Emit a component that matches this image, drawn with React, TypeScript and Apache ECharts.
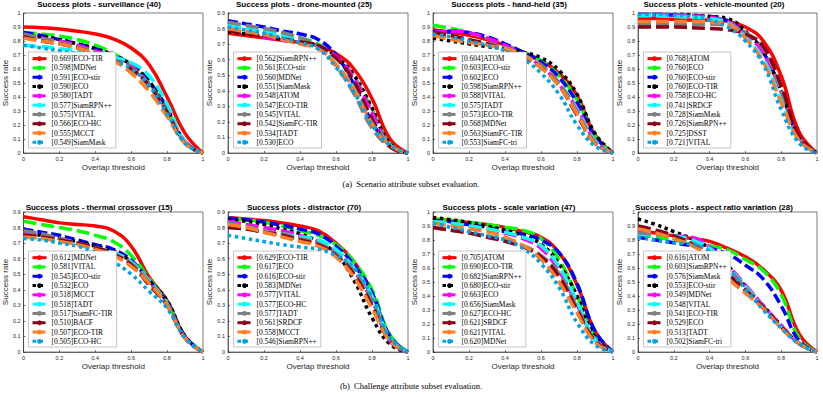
import React, { useEffect, useRef } from "react";
import * as echarts from "echarts";

const thresholds = [0, 0.1, 0.2, 0.3, 0.4, 0.5, 0.6, 0.7, 0.8, 0.9, 1];

const plotTitles = [
  "Success plots - surveillance (40)",
  "Success plots - drone-mounted (25)",
  "Success plots - hand-held (35)",
  "Success plots - vehicle-mounted (20)",
  "Success plots - thermal crossover (15)",
  "Success plots - distractor (70)",
  "Success plots - scale variation (47)",
  "Success plots - aspect ratio variation (28)",
];
const yMaxValues = [1, 0.9, 1, 1, 0.9, 0.9, 1, 1];
const captions = [
  "(a)  Scenario attribute subset evaluation.",
  "(b)  Challenge attribute subset evaluation.",
];

// 1. surveillance
const surveillanceTrackers = ["ECO-TIR", "MDNet", "ECO-stir", "ECO", "TADT", "SiamRPN++", "VITAL", "ECO-HC", "MCCT", "SiamMask"];
const surveillanceAuc = [0.669, 0.598, 0.591, 0.59, 0.58, 0.577, 0.575, 0.566, 0.555, 0.549];
const surveillanceCurves = [
  [0.9, 0.895, 0.885, 0.87, 0.85, 0.815, 0.75, 0.63, 0.4, 0.14, 0],
  [0.86, 0.85, 0.835, 0.81, 0.77, 0.71, 0.63, 0.5, 0.31, 0.08, 0],
  [0.86, 0.84, 0.81, 0.78, 0.745, 0.7, 0.63, 0.51, 0.32, 0.08, 0],
  [0.84, 0.83, 0.81, 0.78, 0.745, 0.7, 0.63, 0.51, 0.31, 0.08, 0],
  [0.84, 0.82, 0.8, 0.77, 0.73, 0.69, 0.62, 0.49, 0.3, 0.08, 0],
  [0.77, 0.76, 0.745, 0.73, 0.71, 0.685, 0.645, 0.55, 0.35, 0.08, 0],
  [0.85, 0.82, 0.79, 0.76, 0.72, 0.67, 0.61, 0.49, 0.3, 0.07, 0],
  [0.83, 0.8, 0.78, 0.75, 0.71, 0.66, 0.6, 0.48, 0.29, 0.07, 0],
  [0.82, 0.8, 0.78, 0.75, 0.71, 0.66, 0.57, 0.44, 0.26, 0.07, 0],
  [0.77, 0.75, 0.73, 0.71, 0.69, 0.66, 0.6, 0.48, 0.28, 0.07, 0],
];

// 2. drone-mounted
const droneTrackers = ["SiamRPN++", "ECO-stir", "MDNet", "SiamMask", "ATOM", "ECO-TIR", "VITAL", "SiamFC-TIR", "TADT", "ECO"];
const droneAuc = [0.562, 0.561, 0.56, 0.551, 0.548, 0.547, 0.545, 0.542, 0.534, 0.53];
const droneCurves = [
  [0.77, 0.755, 0.74, 0.725, 0.71, 0.69, 0.64, 0.54, 0.35, 0.09, 0],
  [0.82, 0.8, 0.78, 0.76, 0.74, 0.7, 0.62, 0.49, 0.28, 0.06, 0],
  [0.85, 0.83, 0.81, 0.785, 0.765, 0.73, 0.63, 0.44, 0.2, 0.05, 0],
  [0.78, 0.765, 0.75, 0.73, 0.71, 0.69, 0.62, 0.5, 0.29, 0.06, 0],
  [0.81, 0.78, 0.745, 0.725, 0.71, 0.69, 0.62, 0.48, 0.26, 0.05, 0],
  [0.82, 0.8, 0.78, 0.76, 0.73, 0.69, 0.57, 0.42, 0.22, 0.05, 0],
  [0.84, 0.82, 0.8, 0.775, 0.74, 0.69, 0.56, 0.38, 0.16, 0.04, 0],
  [0.79, 0.77, 0.755, 0.735, 0.715, 0.69, 0.61, 0.46, 0.22, 0.04, 0],
  [0.8, 0.78, 0.76, 0.73, 0.7, 0.67, 0.57, 0.41, 0.19, 0.05, 0],
  [0.81, 0.79, 0.77, 0.74, 0.71, 0.67, 0.55, 0.39, 0.18, 0.05, 0],
];

// 3. hand-held
const handheldTrackers = ["ATOM", "ECO-stir", "ECO", "SiamRPN++", "VITAL", "TADT", "ECO-TIR", "MDNet", "SiamFC-TIR", "SiamFC-tri"];
const handheldAuc = [0.604, 0.603, 0.602, 0.598, 0.588, 0.575, 0.573, 0.568, 0.563, 0.553];
const handheldCurves = [
  [0.88, 0.86, 0.84, 0.81, 0.77, 0.72, 0.66, 0.57, 0.41, 0.13, 0],
  [0.91, 0.89, 0.86, 0.82, 0.77, 0.72, 0.66, 0.55, 0.38, 0.12, 0],
  [0.87, 0.87, 0.86, 0.83, 0.78, 0.72, 0.65, 0.54, 0.36, 0.12, 0],
  [0.82, 0.8, 0.78, 0.76, 0.745, 0.72, 0.68, 0.59, 0.42, 0.14, 0],
  [0.86, 0.87, 0.86, 0.82, 0.77, 0.7, 0.62, 0.49, 0.32, 0.09, 0],
  [0.85, 0.83, 0.8, 0.78, 0.75, 0.7, 0.62, 0.5, 0.31, 0.09, 0],
  [0.85, 0.83, 0.81, 0.78, 0.75, 0.7, 0.63, 0.5, 0.3, 0.08, 0],
  [0.86, 0.84, 0.81, 0.78, 0.74, 0.69, 0.61, 0.48, 0.27, 0.07, 0],
  [0.84, 0.81, 0.79, 0.77, 0.745, 0.7, 0.61, 0.48, 0.28, 0.07, 0],
  [0.85, 0.83, 0.8, 0.77, 0.73, 0.67, 0.57, 0.42, 0.2, 0.05, 0],
];

// 4. vehicle-mounted
const vehicleTrackers = ["ATOM", "ECO", "ECO-stir", "ECO-TIR", "ECO-HC", "SRDCF", "SiamMask", "SiamRPN++", "DSST", "VITAL"];
const vehicleAuc = [0.768, 0.76, 0.76, 0.76, 0.758, 0.741, 0.728, 0.726, 0.725, 0.721];
const vehicleCurves = [
  [0.96, 0.96, 0.955, 0.95, 0.95, 0.94, 0.9, 0.8, 0.55, 0.15, 0],
  [0.99, 0.99, 0.985, 0.98, 0.97, 0.94, 0.86, 0.72, 0.45, 0.11, 0],
  [0.99, 0.99, 0.985, 0.98, 0.975, 0.945, 0.86, 0.72, 0.44, 0.11, 0],
  [0.99, 0.99, 0.99, 0.985, 0.975, 0.96, 0.87, 0.72, 0.44, 0.11, 0],
  [0.99, 0.99, 0.985, 0.98, 0.97, 0.94, 0.85, 0.71, 0.44, 0.11, 0],
  [0.98, 0.98, 0.975, 0.97, 0.96, 0.93, 0.83, 0.67, 0.38, 0.09, 0],
  [0.92, 0.92, 0.92, 0.92, 0.92, 0.91, 0.86, 0.75, 0.45, 0.1, 0],
  [0.9, 0.9, 0.9, 0.895, 0.89, 0.88, 0.85, 0.76, 0.48, 0.12, 0],
  [0.94, 0.94, 0.94, 0.94, 0.935, 0.92, 0.82, 0.65, 0.36, 0.09, 0],
  [0.99, 0.99, 0.985, 0.975, 0.95, 0.9, 0.8, 0.63, 0.31, 0.07, 0],
];

// 5. thermal crossover
const thermalTrackers = ["MDNet", "VITAL", "ECO-stir", "ECO", "MCCT", "TADT", "SiamFC-TIR", "BACF", "ECO-TIR", "ECO-HC"];
const thermalAuc = [0.612, 0.581, 0.545, 0.532, 0.518, 0.518, 0.517, 0.51, 0.507, 0.505];
const thermalCurves = [
  [0.87, 0.85, 0.83, 0.82, 0.81, 0.78, 0.68, 0.48, 0.33, 0.1, 0],
  [0.84, 0.82, 0.8, 0.78, 0.75, 0.71, 0.62, 0.47, 0.32, 0.1, 0],
  [0.79, 0.77, 0.75, 0.72, 0.69, 0.66, 0.59, 0.46, 0.32, 0.1, 0],
  [0.77, 0.75, 0.73, 0.71, 0.68, 0.65, 0.58, 0.46, 0.33, 0.1, 0],
  [0.77, 0.75, 0.73, 0.7, 0.67, 0.64, 0.58, 0.45, 0.3, 0.09, 0],
  [0.74, 0.73, 0.72, 0.7, 0.67, 0.64, 0.58, 0.46, 0.31, 0.09, 0],
  [0.78, 0.76, 0.73, 0.7, 0.67, 0.63, 0.57, 0.45, 0.3, 0.09, 0],
  [0.75, 0.74, 0.72, 0.7, 0.67, 0.63, 0.56, 0.43, 0.3, 0.09, 0],
  [0.74, 0.73, 0.71, 0.69, 0.66, 0.62, 0.55, 0.44, 0.3, 0.09, 0],
  [0.73, 0.72, 0.7, 0.68, 0.64, 0.58, 0.5, 0.39, 0.28, 0.09, 0],
];

// 6. distractor
const distractorTrackers = ["ECO-TIR", "ECO", "ECO-stir", "MDNet", "VITAL", "ECO-HC", "TADT", "SRDCF", "MCCT", "SiamRPN++"];
const distractorAuc = [0.629, 0.617, 0.616, 0.583, 0.577, 0.577, 0.577, 0.561, 0.558, 0.546];
const distractorCurves = [
  [0.865, 0.855, 0.845, 0.83, 0.81, 0.78, 0.7, 0.58, 0.38, 0.1, 0],
  [0.86, 0.85, 0.835, 0.81, 0.78, 0.75, 0.69, 0.58, 0.4, 0.11, 0],
  [0.86, 0.85, 0.835, 0.815, 0.79, 0.76, 0.68, 0.56, 0.38, 0.1, 0],
  [0.85, 0.84, 0.82, 0.79, 0.76, 0.71, 0.63, 0.46, 0.22, 0.05, 0],
  [0.84, 0.82, 0.8, 0.78, 0.75, 0.71, 0.64, 0.52, 0.33, 0.07, 0],
  [0.8, 0.79, 0.775, 0.76, 0.74, 0.72, 0.66, 0.54, 0.36, 0.09, 0],
  [0.83, 0.81, 0.78, 0.76, 0.73, 0.7, 0.63, 0.52, 0.33, 0.08, 0],
  [0.8, 0.79, 0.77, 0.75, 0.72, 0.69, 0.62, 0.5, 0.3, 0.07, 0],
  [0.82, 0.8, 0.77, 0.74, 0.71, 0.68, 0.61, 0.48, 0.28, 0.07, 0],
  [0.75, 0.73, 0.71, 0.69, 0.675, 0.66, 0.62, 0.54, 0.35, 0.09, 0],
];

// 7. scale variation
const scaleTrackers = ["ATOM", "ECO-TIR", "SiamRPN++", "ECO-stir", "ECO", "SiamMask", "ECO-HC", "SRDCF", "VITAL", "MDNet"];
const scaleAuc = [0.705, 0.69, 0.682, 0.68, 0.663, 0.656, 0.627, 0.621, 0.621, 0.62];
const scaleCurves = [
  [0.95, 0.94, 0.925, 0.91, 0.89, 0.86, 0.82, 0.71, 0.48, 0.15, 0],
  [0.95, 0.94, 0.925, 0.91, 0.89, 0.87, 0.81, 0.66, 0.4, 0.11, 0],
  [0.94, 0.93, 0.91, 0.89, 0.86, 0.84, 0.8, 0.71, 0.49, 0.15, 0],
  [0.96, 0.945, 0.925, 0.9, 0.87, 0.83, 0.77, 0.63, 0.4, 0.11, 0],
  [0.93, 0.92, 0.9, 0.88, 0.85, 0.81, 0.74, 0.58, 0.34, 0.09, 0],
  [0.93, 0.92, 0.9, 0.88, 0.855, 0.82, 0.76, 0.61, 0.36, 0.09, 0],
  [0.89, 0.87, 0.85, 0.83, 0.8, 0.76, 0.69, 0.56, 0.32, 0.08, 0],
  [0.89, 0.87, 0.85, 0.82, 0.79, 0.75, 0.68, 0.54, 0.3, 0.08, 0],
  [0.92, 0.9, 0.88, 0.86, 0.82, 0.76, 0.66, 0.5, 0.28, 0.07, 0],
  [0.92, 0.89, 0.86, 0.83, 0.8, 0.74, 0.63, 0.46, 0.21, 0.05, 0],
];

// 8. aspect ratio variation
const aspectTrackers = ["ATOM", "SiamRPN++", "SiamMask", "ECO-stir", "MDNet", "VITAL", "ECO-TIR", "ECO", "TADT", "SiamFC-tri"];
const aspectAuc = [0.616, 0.603, 0.576, 0.553, 0.549, 0.548, 0.541, 0.529, 0.513, 0.502];
const aspectCurves = [
  [0.86, 0.85, 0.83, 0.81, 0.79, 0.74, 0.68, 0.59, 0.44, 0.13, 0],
  [0.84, 0.82, 0.8, 0.78, 0.76, 0.73, 0.66, 0.58, 0.41, 0.1, 0],
  [0.82, 0.8, 0.78, 0.76, 0.74, 0.7, 0.62, 0.52, 0.33, 0.08, 0],
  [0.95, 0.91, 0.86, 0.81, 0.74, 0.62, 0.47, 0.33, 0.19, 0.06, 0],
  [0.87, 0.85, 0.83, 0.82, 0.75, 0.62, 0.48, 0.33, 0.19, 0.06, 0],
  [0.84, 0.84, 0.83, 0.8, 0.74, 0.61, 0.47, 0.32, 0.18, 0.06, 0],
  [0.85, 0.84, 0.82, 0.78, 0.71, 0.6, 0.46, 0.31, 0.18, 0.06, 0],
  [0.9, 0.87, 0.83, 0.77, 0.68, 0.56, 0.44, 0.32, 0.18, 0.06, 0],
  [0.88, 0.85, 0.81, 0.76, 0.68, 0.53, 0.42, 0.31, 0.17, 0.06, 0],
  [0.82, 0.8, 0.78, 0.77, 0.72, 0.6, 0.45, 0.3, 0.17, 0.06, 0],
];

const allTrackers = [surveillanceTrackers, droneTrackers, handheldTrackers, vehicleTrackers, thermalTrackers, distractorTrackers, scaleTrackers, aspectTrackers];
const allAuc = [surveillanceAuc, droneAuc, handheldAuc, vehicleAuc, thermalAuc, distractorAuc, scaleAuc, aspectAuc];
const allCurves = [surveillanceCurves, droneCurves, handheldCurves, vehicleCurves, thermalCurves, distractorCurves, scaleCurves, aspectCurves];

const rankColors = ["#ff0000", "#00ff00", "#0000ff", "#000000", "#ff00ff", "#00ffff", "#808080", "#880015", "#ff7f27", "#00a2e8"];
const rankDash: any[] = ["solid", [13, 5], [10, 4], [3.5, 3.5], [13, 5], [13, 5], [13, 5], [13, 5], [13, 5], [3.5, 3.5]];

const colLefts = [23, 228, 433, 638];
const colWidths = [180, 180, 180, 179];
const rowTops = [13, 212];
const gridH = 140;
const sans = "'Liberation Sans', Arial, Helvetica, sans-serif";
const serif = "'Liberation Serif', 'Times New Roman', serif";

function fmt(v: number) {
  if (Math.abs(v) < 1e-9) return "0";
  if (Math.abs(v - 1) < 1e-9) return "1";
  return v.toFixed(1);
}

export default function App() {
  const ref = useRef<HTMLDivElement>(null);
  useEffect(() => {
    if (!ref.current) return;
    const chart = echarts.init(ref.current, undefined, { renderer: "svg" });
    const grids: any[] = [];
    const xAxes: any[] = [];
    const yAxes: any[] = [];
    const titles: any[] = [];
    const legends: any[] = [];
    const series: any[] = [];
    for (let p = 0; p < 8; p++) {
      const col = p % 4;
      const row = Math.floor(p / 4);
      const left = colLefts[col];
      const top = rowTops[row];
      const w = colWidths[col];
      grids.push({
        left, top, width: w, height: gridH,
        show: true, borderColor: "#262626", borderWidth: 0.6, backgroundColor: "#fff",
      });
      xAxes.push({
        gridIndex: p, type: "value", min: 0, max: 1, interval: 0.2,
        name: "Overlap threshold", nameLocation: "middle", nameGap: 10,
        nameTextStyle: { fontFamily: sans, fontSize: 8, color: "#262626" },
        axisLine: { lineStyle: { color: "#262626", width: 0.6 } },
        axisTick: { inside: true, length: 2, lineStyle: { color: "#262626", width: 0.6 } },
        axisLabel: { fontFamily: sans, fontSize: 5.5, color: "#262626", margin: 3, formatter: fmt },
        splitLine: { show: false },
      });
      yAxes.push({
        gridIndex: p, type: "value", min: 0, max: yMaxValues[p], interval: 0.1,
        name: "Success rate", nameLocation: "middle", nameGap: 13,
        nameTextStyle: { fontFamily: sans, fontSize: 8, color: "#262626" },
        axisLine: { lineStyle: { color: "#262626", width: 0.6 } },
        axisTick: { inside: true, length: 2, lineStyle: { color: "#262626", width: 0.6 } },
        axisLabel: { fontFamily: sans, fontSize: 5.5, color: "#262626", margin: 3, formatter: fmt },
        splitLine: { show: false },
      });
      titles.push({
        text: plotTitles[p], left: left + 76, top: row === 0 ? 0.5 : 203, textAlign: "center",
        textStyle: { fontFamily: sans, fontSize: 8, fontWeight: "bold", color: "#000" },
        padding: 0,
      });
      const names = allTrackers[p].map((n, k) => `[${allAuc[p][k].toFixed(3)}]${n}`);
      legends.push({
        orient: "vertical", left: left + 5.5, top: top + 39,
        data: names, selectedMode: false,
        itemWidth: 14, itemHeight: 6, itemGap: 0,
        padding: [2, 4, 1, 2.5],
        borderColor: "#a0a0a0", borderWidth: 0.6, backgroundColor: "#fff",
        textStyle: { fontFamily: serif, fontSize: 7.5, lineHeight: 9.3, color: "#000" },
        lineStyle: { width: 3 },
      });
      allCurves[p].forEach((curve, k) => {
        series.push({
          type: "line", name: names[k], xAxisIndex: p, yAxisIndex: p,
          data: thresholds.map((x, j) => [x, curve[j]]),
          symbol: "none", showSymbol: false, smooth: 0.45,
          color: rankColors[k],
          lineStyle: { color: rankColors[k], width: 3.5, type: rankDash[k] },
          silent: true,
        });
      });
    }
    titles.push({
      text: captions[0], left: 411, top: 179, textAlign: "center", padding: 0,
      textStyle: { fontFamily: serif, fontSize: 8.5, fontWeight: "normal", color: "#000" },
    });
    titles.push({
      text: captions[1], left: 411, top: 381.5, textAlign: "center", padding: 0,
      textStyle: { fontFamily: serif, fontSize: 8.5, fontWeight: "normal", color: "#000" },
    });
    chart.setOption({
      animation: false,
      backgroundColor: "#fff",
      title: titles,
      legend: legends,
      grid: grids,
      xAxis: xAxes,
      yAxis: yAxes,
      series,
    });
    return () => chart.dispose();
  }, []);
  return <div ref={ref} style={{ position: "absolute", left: 0, top: 0, width: 823, height: 397 }} />;
}
